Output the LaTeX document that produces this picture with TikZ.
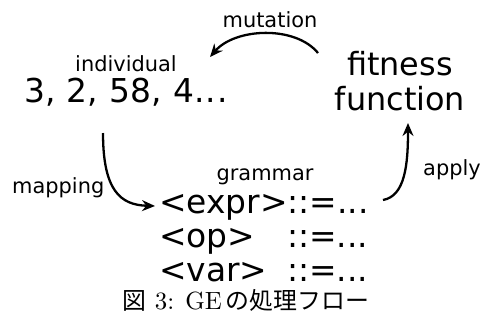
\documentclass[tikz,border=0pt]{standalone}
\usepackage{fontspec}
\newfontfamily\dvs{DejaVu Sans}
\newfontfamily\cjk{Noto Sans CJK JP}
\newfontfamily\lmten{lmroman10-regular.otf}
\usetikzlibrary{arrows.meta}
\tikzset{
  lbl/.style={font=\dvs\fontsize{21}{25}\selectfont, inner sep=0pt, text=black},
  bigtxt/.style={font=\dvs\fontsize{32}{38}\selectfont, inner sep=0pt, text=black},
  gramtxt/.style={font=\dvs\fontsize{33}{38}\selectfont, inner sep=0pt, text=black},
  flow/.style={line width=2.3pt, -{Stealth[length=13pt,width=11pt]}},
  captxt/.style={font=\lmten\fontsize{25}{28}\selectfont, inner sep=0pt}
}
\newcommand{\jp}[1]{{\cjk\fontsize{24}{26}\selectfont #1}}
\begin{document}
\begin{tikzpicture}[x=1bp,y=-1bp]
\useasboundingbox (0,0) rectangle (482,321);
% labels
\node[lbl, anchor=base] (mut) at (270,27) {mutation};
\node[lbl, anchor=base] (ind) at (126,71) {individual};
\node[gramtxt, anchor=base] (num) at (126,102) {3,\kern1pt{} 2,\kern1pt{} 58,\kern1pt{} 4.\kern1pt.\kern1pt.};
\node[bigtxt, anchor=base] (fit) at (400,75) {fitness};
\node[bigtxt, anchor=base] (fun) at (400,110) {function};
\node[lbl, anchor=base west] (apl) at (423,175) {apply};
\node[lbl, anchor=base west] (map) at (12,193) {mapping};
\node[lbl, anchor=base] (gram) at (265,180) {grammar};
\node[gramtxt, anchor=base west] (g1) at (159,213) {<expr>::=...};
\node[gramtxt, anchor=base west] (g2) at (159,247) {<op>};
\node[gramtxt, anchor=base west] (g2r) at (287,247) {::=...};
\node[gramtxt, anchor=base west] (g3) at (159,281) {<var>};
\node[gramtxt, anchor=base west] (g3r) at (287,281) {::=...};
\node[captxt, anchor=base] (cap) at (246,309) {\jp{図} 3: GE\kern4pt\jp{の処理フロー}};
% connector end points
\coordinate (m1) at (318,53);
\coordinate (m2) at (210,57);
\coordinate (p1) at (103,133);
\coordinate (p2) at (155,206);
\coordinate (a1) at (383,200);
\coordinate (a2) at (408,123);
% connectors
\draw[flow] (m1) .. controls (295,25) and (235,28) .. (m2);
\draw[flow] (p1) .. controls (103,190) and (120,205) .. (p2);
\draw[flow] (a1) .. controls (405,196) and (408,165) .. (a2);
\end{tikzpicture}
\end{document}
